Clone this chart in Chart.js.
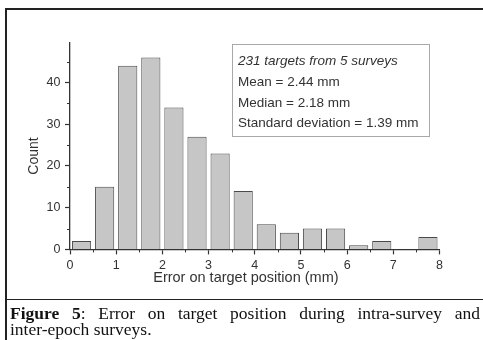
<!DOCTYPE html>
<html>
<head>
<meta charset="utf-8">
<script src="https://cdn.jsdelivr.net/npm/chart.js@4/dist/chart.umd.min.js"></script>
<style>
  html, body { margin: 0; padding: 0; background: #fff; }
  #page { position: relative; width: 483px; height: 340px; overflow: hidden; }
  #frame { position: absolute; left: 5px; top: 8px; width: 520px; height: 360px;
           border-left: 2px solid #222; border-top: 2px solid #222; box-sizing: border-box; }
  #rule { position: absolute; left: 6px; top: 299px; width: 500px; height: 0; border-top: 1.5px solid #222; }
  #chart { position: absolute; left: 0; top: 0; }
  #stats { position: absolute; left: 232px; top: 44px; width: 198px; height: 93px;
           border: 1px solid #a8a8a8; box-sizing: border-box; padding: 6px 0 0 5px;
           font-family: 'Liberation Sans', Arial, sans-serif; font-size: 13.5px; line-height: 20.8px; color: #333; }
  #stats .head { font-style: italic; }
  #caption { position: absolute; left: 10px; top: 305px; width: 470px;
             font-family: 'Liberation Serif', 'Times New Roman', serif; font-size: 17.5px; line-height: 16px; color: #111; }
  #caption .first { text-align: justify; text-align-last: justify; }
</style>
</head>
<body>
<div id="page">
  <div id="frame"></div>
  <div id="rule"></div>
  <canvas id="chart" width="483" height="340"></canvas>
  <div id="stats">
    <div class="head">231 targets from 5 surveys</div>
    <div>Mean = 2.44 mm</div>
    <div>Median = 2.18 mm</div>
    <div>Standard deviation = 1.39 mm</div>
  </div>
  <div id="caption">
    <div class="first"><b>Figure 5</b>: Error on target position during intra-survey and</div>
    <div>inter-epoch surveys.</div>
  </div>
</div>
<script>
// Histogram of target position errors, 0.5 mm bins
const binStarts = [0, 0.5, 1, 1.5, 2, 2.5, 3, 3.5, 4, 4.5, 5, 5.5, 6, 6.5, 7, 7.5];
const binWidth = 0.5;
const counts = [2, 15, 44, 46, 34, 27, 23, 14, 6, 4, 5, 5, 1, 2, 0, 3];

// Labelled (major) ticks; minor ticks fall halfway between them
const xTickLabels = [0, 1, 2, 3, 4, 5, 6, 7, 8];
const yTickLabels = [0, 10, 20, 30, 40];

const xTitle = 'Error on target position (mm)';
const yTitle = 'Count';

const AXIS = '#333';
const TEXT = '#333';
const SANS = "'Liberation Sans', Arial, sans-serif";

const isMajor = (list, v) => list.some(t => Math.abs(t - v) < 1e-9);

// Short minor ticks and the two axis titles
const axisExtras = {
  id: 'axisExtras',
  afterDraw(chart) {
    const { ctx, scales: { x, y } } = chart;
    ctx.save();
    ctx.strokeStyle = AXIS;
    ctx.lineWidth = 1;
    x.ticks.forEach(t => {
      if (isMajor(xTickLabels, t.value)) return;
      const px = Math.round(x.getPixelForValue(t.value)) + 0.5;
      ctx.beginPath(); ctx.moveTo(px, x.top); ctx.lineTo(px, x.top + 3); ctx.stroke();
    });
    y.ticks.forEach(t => {
      if (isMajor(yTickLabels, t.value)) return;
      const py = Math.round(y.getPixelForValue(t.value)) + 0.5;
      ctx.beginPath(); ctx.moveTo(y.right, py); ctx.lineTo(y.right - 3, py); ctx.stroke();
    });

    ctx.fillStyle = TEXT;
    ctx.textAlign = 'center';
    ctx.textBaseline = 'alphabetic';
    ctx.font = '14.5px ' + SANS;
    ctx.fillText(xTitle, x.left + (x.right - x.left) * 0.476, 282);

    ctx.translate(38, 156);
    ctx.rotate(-Math.PI / 2);
    ctx.font = '14px ' + SANS;
    ctx.fillText(yTitle, 0, 0);
    ctx.restore();
  }
};

new Chart(document.getElementById('chart'), {
  type: 'bar',
  data: {
    datasets: [{
      data: binStarts.map((b, i) => ({ x: b + binWidth / 2, y: counts[i] })),
      backgroundColor: '#c6c6c6',
      borderColor: '#4a4a4a',
      borderWidth: 1,
      categoryPercentage: 1,
      barPercentage: 0.83
    }]
  },
  options: {
    responsive: false,
    animation: false,
    events: [],
    layout: { padding: { left: 0, top: 42.5, right: 43.5, bottom: 40 } },
    plugins: { legend: { display: false }, tooltip: { enabled: false } },
    scales: {
      x: {
        type: 'linear',
        min: 0,
        max: 8,
        offset: false,
        afterFit(s) { s.height = 50.6; },
        border: { display: true, color: AXIS, width: 1.3 },
        grid: {
          offset: false,
          drawOnChartArea: false,
          tickLength: 5,
          tickWidth: 1.2,
          tickColor: c => (c.tick && isMajor(xTickLabels, c.tick.value)) ? AXIS : 'rgba(0,0,0,0)'
        },
        ticks: {
          stepSize: 0.5,
          autoSkip: false,
          maxRotation: 0,
          padding: 3.5,
          color: TEXT,
          font: { family: SANS, size: 12.5 },
          callback: v => isMajor(xTickLabels, v) ? String(v) : ''
        }
      },
      y: {
        min: 0,
        max: 49.6,
        afterFit(s) { s.width = 70; },
        border: { display: true, color: AXIS, width: 1.3 },
        grid: {
          drawOnChartArea: false,
          tickLength: 5,
          tickWidth: 1.2,
          tickColor: c => (c.tick && isMajor(yTickLabels, c.tick.value)) ? AXIS : 'rgba(0,0,0,0)'
        },
        ticks: {
          stepSize: 5,
          includeBounds: false,
          autoSkip: false,
          padding: 4.5,
          color: TEXT,
          font: { family: SANS, size: 12.5 },
          callback: v => isMajor(yTickLabels, v) ? String(v) : ''
        }
      }
    }
  },
  plugins: [axisExtras]
});
</script>
</body>
</html>
